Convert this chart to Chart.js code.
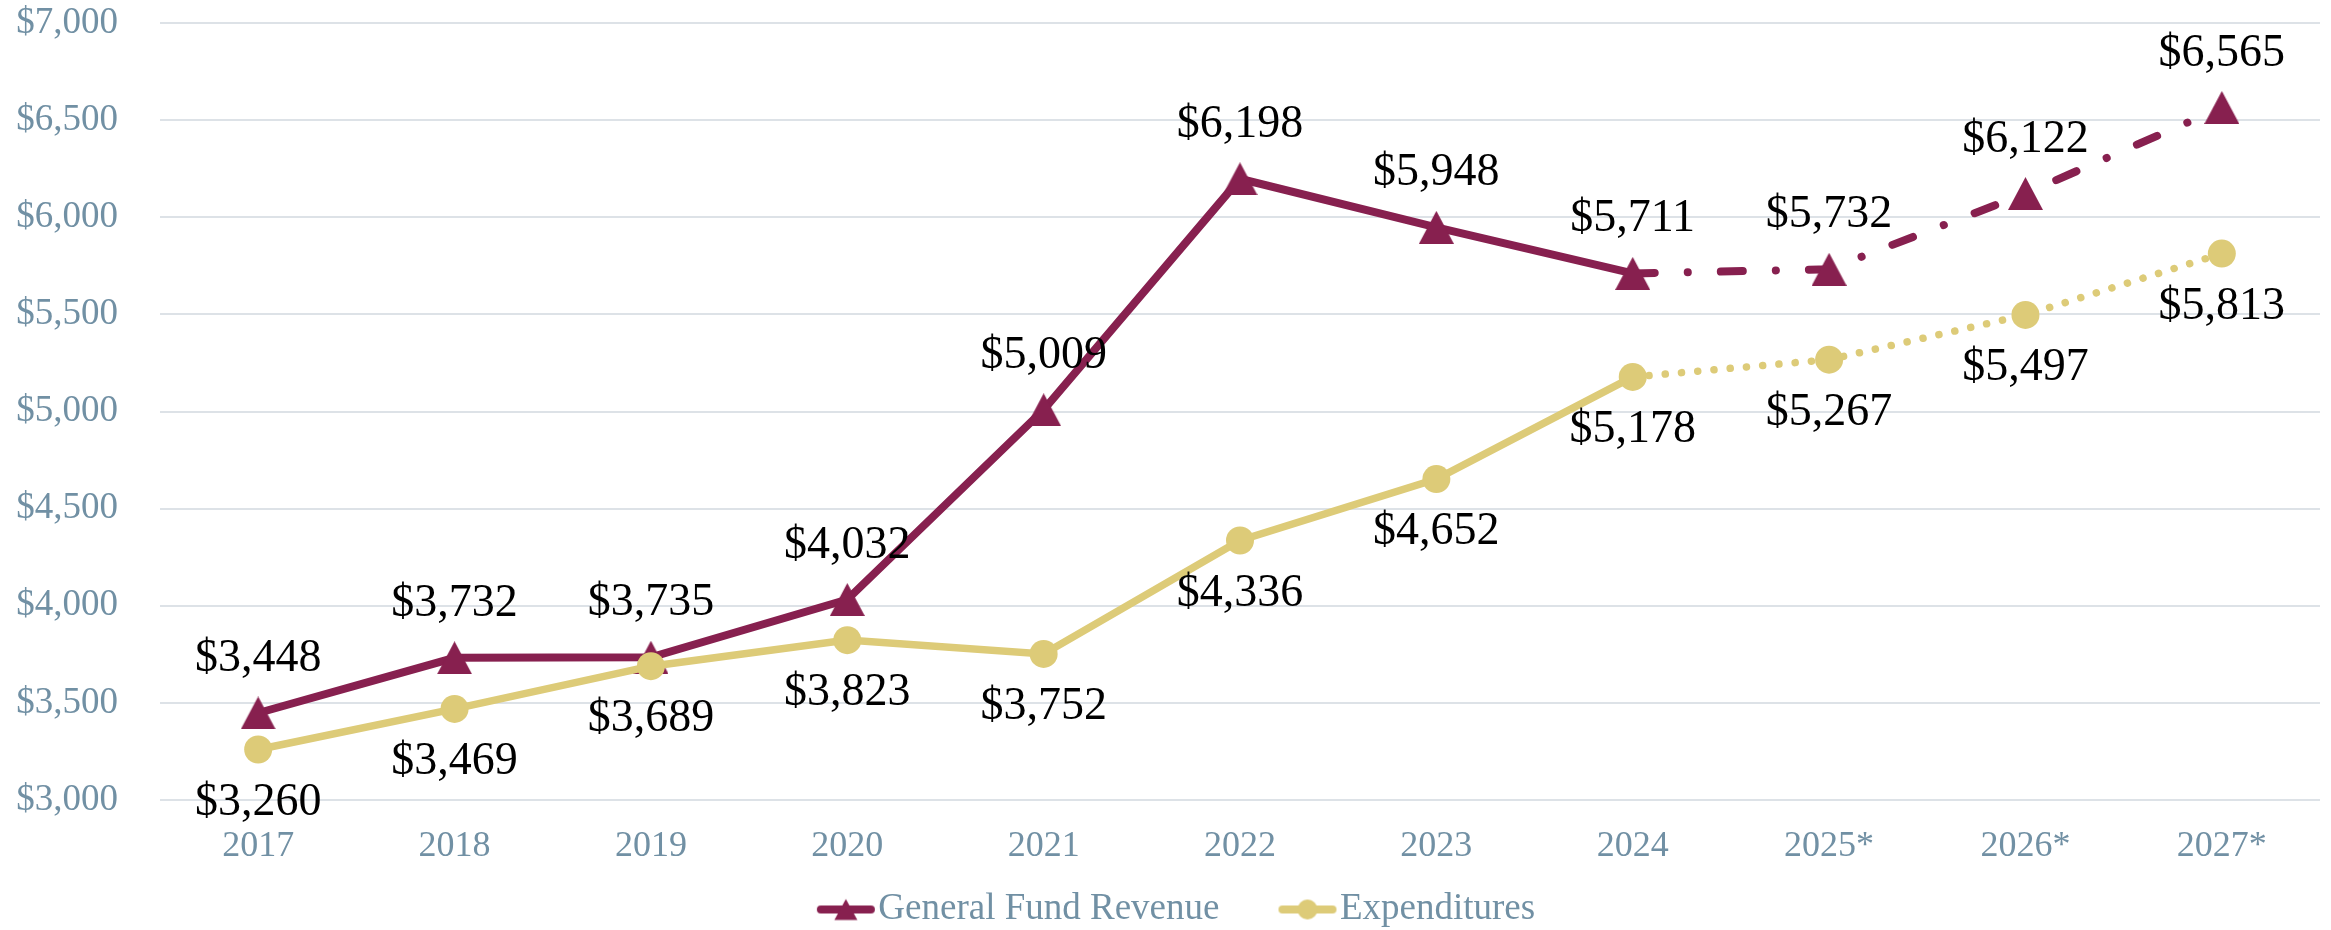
<!DOCTYPE html>
<html>
<head>
<meta charset="utf-8">
<script src="https://cdn.jsdelivr.net/npm/chart.js@4.4.1/dist/chart.umd.min.js"></script>
<style>
    html, body { margin: 0; padding: 0; background: #fff; }
    #wrap { width: 2331px; height: 930px; position: relative; }
</style>
</head>
<body>
<div id="wrap"><canvas id="fundChart"></canvas></div>
<script>
const years = ['2017', '2018', '2019', '2020', '2021', '2022', '2023', '2024', '2025*', '2026*', '2027*'];
const revenue = [3448, 3732, 3735, 4032, 5009, 6198, 5948, 5711, 5732, 6122, 6565];
const expenditures = [3260, 3469, 3689, 3823, 3752, 4336, 4652, 5178, 5267, 5497, 5813];
const yRange = [3000, 7000];
const yStep = 500;
const forecastFrom = 7; // segments after 2024 are projections

const maroon = '#87204F';
const gold = '#DDCB78';
const slate = '#7190A4';
const serif = '"Liberation Serif", "Times New Roman", serif';

function money(v) {
    return '$' + Number(v).toLocaleString('en-US');
}

// excel style triangle marker (centred on its box, not on its centroid)
function triangleMarker(w, h, colour) {
    let c = document.createElement('canvas');
    c.width = w;
    c.height = h;
    let g = c.getContext('2d');
    g.fillStyle = colour;
    g.beginPath();
    g.moveTo(w / 2, 0);
    g.lineTo(w, h);
    g.lineTo(0, h);
    g.closePath();
    g.fill();
    return c;
}

// line + marker picture for the legend, drawn right of centre so it sits close to the text
function legendIcon(colour, shape) {
    let c = document.createElement('canvas');
    c.width = 116;
    c.height = 40;
    let g = c.getContext('2d');
    g.strokeStyle = colour;
    g.fillStyle = colour;
    g.lineWidth = 8;
    g.lineCap = 'round';
    g.beginPath();
    g.moveTo(60, 20);
    g.lineTo(110, 20);
    g.stroke();
    g.beginPath();
    if (shape === 'triangle') {
        g.moveTo(85, 9.5);
        g.lineTo(96.5, 30.5);
        g.lineTo(73.5, 30.5);
        g.closePath();
    } else {
        g.arc(85, 20, 10, 0, Math.PI * 2);
    }
    g.fill();
    return c;
}
const icons = [legendIcon(maroon, 'triangle'), legendIcon(gold, 'circle')];

// value labels: revenue above its points, expenditures below
const pointLabels = {
    id: 'pointLabels',
    afterDatasetsDraw(chart) {
        let ctx = chart.ctx;
        ctx.save();
        ctx.font = '46px ' + serif;
        ctx.fillStyle = '#000';
        ctx.textAlign = 'center';
        ctx.textBaseline = 'middle';
        chart.data.datasets.forEach(function (ds, i) {
            let meta = chart.getDatasetMeta(i);
            let off = i === 0 ? -54 : 53;
            meta.data.forEach(function (pt, j) {
                ctx.fillText(money(ds.data[j]), pt.x, pt.y + off);
            });
        });
        ctx.restore();
    }
};

let ctx = document.getElementById('fundChart');
let fundChart = new Chart(ctx, {
    type: 'line',
    data: {
        labels: years,
        datasets: [{
            label: 'General Fund Revenue',
            data: revenue,
            borderColor: maroon,
            backgroundColor: maroon,
            borderWidth: 8,
            borderCapStyle: 'round',
            pointStyle: triangleMarker(35, 33, maroon),
            pointRadius: 17,
            order: 2,
            segment: {
                borderDash: c => c.p0DataIndex >= forecastFrom ? [22, 33, 0.1, 33] : undefined
            }
        }, {
            label: 'Expenditures',
            data: expenditures,
            borderColor: gold,
            backgroundColor: gold,
            borderWidth: 7.5,
            borderCapStyle: 'round',
            pointStyle: 'circle',
            pointRadius: 14,
            pointBorderWidth: 0,
            order: 1,
            segment: {
                borderDash: c => c.p0DataIndex >= forecastFrom ? [0.1, 16.2] : undefined
            }
        }]
    },
    options: {
        responsive: true,
        maintainAspectRatio: false,
        animation: false,
        layout: {
            autoPadding: false,
            padding: { left: -7, right: 11, top: 23, bottom: -8 }
        },
        scales: {
            x: {
                offset: true,
                grid: { display: false, drawTicks: false },
                border: { display: false },
                ticks: {
                    color: slate,
                    font: { family: serif, size: 36 },
                    padding: 25
                },
                afterFit: s => { s.height = 71; }
            },
            y: {
                min: yRange[0],
                max: yRange[1],
                border: { display: false },
                grid: { color: '#DDE2E7', lineWidth: 2, drawTicks: false },
                ticks: {
                    stepSize: yStep,
                    color: slate,
                    padding: 42,
                    font: { family: serif, size: 37 },
                    callback: v => money(v)
                },
                afterFit: s => {
                    s.width = 167;
                    s.paddingTop = 0;
                    s.paddingBottom = 0;
                }
            }
        },
        plugins: {
            legend: {
                position: 'bottom',
                labels: {
                    color: slate,
                    font: { family: serif, size: 37 },
                    usePointStyle: true,
                    pointStyleWidth: 82,
                    boxHeight: 37,
                    padding: 20,
                    sort: (a, b) => a.datasetIndex - b.datasetIndex,
                    generateLabels(chart) {
                        let items = Chart.defaults.plugins.legend.labels.generateLabels(chart);
                        items.forEach(function (it) {
                            it.pointStyle = icons[it.datasetIndex];
                        });
                        return items;
                    }
                }
            },
            title: { display: false },
            tooltip: { enabled: false }
        }
    },
    plugins: [pointLabels]
});
</script>
</body>
</html>
